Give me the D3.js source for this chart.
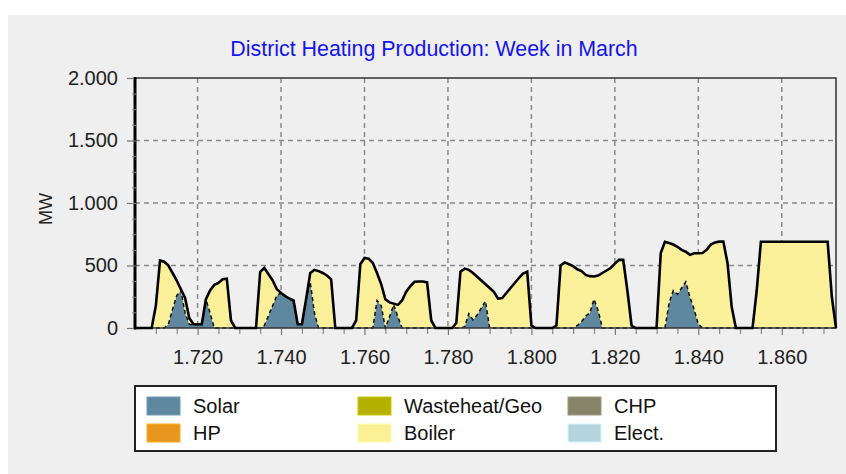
<!DOCTYPE html>
<html>
<head>
<meta charset="utf-8">
<script src="https://cdn.jsdelivr.net/npm/d3@7/dist/d3.min.js"></script>
<style>
  html, body { margin: 0; padding: 0; background: #ffffff; }
  svg { display: block; }
</style>
</head>
<body>
<div id="chart"></div>
<script>
// hourly data, hour 1705 .. 1873 (one week)
const firstHour = 1705;
const lastHour = 1873;

// MW per hour
const solarValues = [
    0, 0, 0, 0, 0, 0, 0, 0, 30, 150,
    260, 300, 120, 30, 25, 25, 30, 230, 120, 0,
    0, 0, 0, 0, 0, 0, 0, 0, 0, 0,
    0, 20, 100, 180, 260, 280, 255, 235, 220, 30,
    30, 230, 370, 120, 0, 0, 0, 0, 0, 0,
    0, 0, 0, 0, 0, 0, 0, 0, 220, 180,
    0, 90, 185, 90, 0, 0, 0, 0, 0, 0,
    0, 0, 0, 0, 0, 0, 0, 0, 0, 10,
    115, 65, 105, 160, 215, 0, 0, 0, 0, 0,
    0, 0, 0, 0, 0, 0, 0, 0, 0, 0,
    0, 0, 0, 0, 0, 0, 20, 50, 95, 120,
    230, 140, 0, 0, 0, 0, 0, 0, 0, 0,
    0, 0, 0, 0, 0, 0, 0, 0, 200, 300,
    270, 320, 370, 245, 150, 30, 0, 0, 0, 0,
    0, 0, 0, 0, 0, 0, 0, 0, 0, 0,
    0, 0, 0, 0, 0, 0, 0, 0, 0, 0,
    0, 0, 0, 0, 0, 0, 0, 0, 0
];

const boilerValues = [
    0, 0, 0, 0, 0, 180, 540, 530, 470, 290,
    120, 10, 120, 50, 5, 5, 0, 0, 180, 345,
    360, 390, 395, 60, 0, 0, 0, 0, 0, 0,
    450, 460, 330, 200, 50, 0, 0, 0, 0, 0,
    0, 0, 70, 345, 455, 440, 420, 390, 0, 0,
    0, 0, 0, 60, 510, 560, 555, 520, 220, 170,
    230, 115, 10, 95, 220, 290, 335, 370, 372, 372,
    365, 60, 0, 0, 0, 0, 0, 40, 450, 465,
    350, 375, 305, 220, 135, 320, 290, 235, 240, 280,
    320, 360, 400, 435, 450, 20, 0, 0, 0, 0,
    0, 20, 500, 525, 510, 495, 450, 405, 330, 295,
    182, 280, 440, 460, 480, 515, 545, 545, 300, 20,
    0, 0, 0, 0, 0, 0, 600, 690, 480, 368,
    380, 305, 240, 340, 448, 568, 600, 625, 668, 685,
    691, 691, 520, 170, 0, 0, 0, 0, 0, 300,
    690, 690, 690, 690, 690, 690, 690, 690, 690, 690,
    690, 690, 690, 690, 690, 690, 690, 250, 0
];

const yTicks = [0, 500, 1000, 1500, 2000];
const xTicks = [1720, 1740, 1760, 1780, 1800, 1820, 1840, 1860];

const legendNames = ["Solar", "HP", "Wasteheat/Geo", "Boiler", "CHP", "Elect."];
const legendColors = ["#5f87a0", "#e8961e", "#b3b000", "#faf096", "#86856a", "#b4d4de"];

const width = 846, height = 474;
const plot = { left: 135, right: 836, top: 78, bottom: 328 };
const font = "'Liberation Sans', Arial, sans-serif";

const svg = d3.select("#chart").append("svg")
    .attr("width", width)
    .attr("height", height)
    .attr("viewBox", `0 0 ${width} ${height}`);

// panel background
svg.append("rect")
    .attr("x", 8).attr("y", 15)
    .attr("width", width - 8).attr("height", height - 15)
    .attr("fill", "#efefef");

// title
svg.append("text")
    .attr("x", 434).attr("y", 56)
    .attr("text-anchor", "middle")
    .style("font-family", font)
    .style("font-size", "21.4px")
    .style("fill", "#1414f0")
    .text("District Heating Production: Week in March");

// scales
const hours = d3.range(firstHour, lastHour + 1);
const x = d3.scaleLinear().domain([firstHour, lastHour]).range([plot.left, plot.right]);
const y = d3.scaleLinear().domain([0, 2000]).range([plot.bottom, plot.top]);

const fmt = d3.formatLocale({ decimal: ",", thousands: ".", grouping: [3], currency: ["", ""] }).format(",d");

// grid
const grid = svg.append("g")
    .attr("stroke", "#8a8a8a")
    .attr("stroke-width", 1.5)
    .attr("stroke-dasharray", "5,4");
grid.selectAll(".gx").data(xTicks).enter().append("line")
    .attr("x1", d => x(d)).attr("x2", d => x(d))
    .attr("y1", plot.top).attr("y2", plot.bottom);
grid.selectAll(".gy").data(yTicks.slice(1, -1)).enter().append("line")
    .attr("x1", plot.left).attr("x2", plot.right)
    .attr("y1", d => y(d)).attr("y2", d => y(d));

// stacked data
const table = hours.map((h, i) => ({ hour: h, solar: solarValues[i], boiler: boilerValues[i] }));
const series = d3.stack().keys(["solar", "boiler"])(table);
const colorOf = { solar: "#5f879f", boiler: "#fbf09a" };

const area = d3.area()
    .x(d => x(d.data.hour))
    .y0(d => y(d[0]))
    .y1(d => y(d[1]));

svg.append("g").selectAll("path")
    .data(series)
    .enter().append("path")
    .attr("fill", d => colorOf[d.key])
    .attr("d", area);

const topLine = d3.line()
    .x(d => x(d.data.hour))
    .y(d => y(d[1]));

// solar edge (dashed)
svg.append("path")
    .datum(series[0])
    .attr("fill", "none")
    .attr("stroke", "#111")
    .attr("stroke-width", 1.5)
    .attr("stroke-dasharray", "4,3")
    .attr("d", topLine);

// frame
svg.append("rect")
    .attr("x", plot.left).attr("y", plot.top)
    .attr("width", plot.right - plot.left).attr("height", plot.bottom - plot.top)
    .attr("fill", "none")
    .attr("stroke", "#333")
    .attr("stroke-width", 1.5);

// total outline
svg.append("path")
    .datum(series[1])
    .attr("fill", "none")
    .attr("stroke", "#000")
    .attr("stroke-width", 2.6)
    .attr("stroke-linejoin", "miter")
    .attr("d", topLine);

svg.append("line")
    .attr("x1", plot.left).attr("x2", plot.left)
    .attr("y1", plot.top - 1).attr("y2", plot.bottom + 1.5)
    .attr("stroke", "#000")
    .attr("stroke-width", 3);

// y axis
const yAxis = svg.append("g")
    .attr("transform", `translate(${plot.left - 1},0)`)
    .call(d3.axisLeft(y).tickValues(yTicks).tickSize(7).tickPadding(9).tickFormat(fmt));
yAxis.select(".domain").remove();
yAxis.selectAll("line").attr("stroke", "#777").attr("stroke-width", 1.2);
yAxis.selectAll("text")
    .style("font-family", font)
    .style("font-size", "20px")
    .style("fill", "#222");

const yMinor = svg.append("g")
    .attr("transform", `translate(${plot.left + 1},0)`)
    .call(d3.axisLeft(y).tickValues(d3.range(125, 2000, 125)).tickSize(4).tickFormat(""));
yMinor.select(".domain").remove();
yMinor.selectAll("line").attr("stroke", "#888").attr("stroke-width", 1);

// x axis
const xAxis = svg.append("g")
    .attr("transform", `translate(0,${plot.bottom + 1})`)
    .call(d3.axisBottom(x).tickValues(xTicks).tickSize(6).tickPadding(15).tickFormat(fmt));
xAxis.select(".domain").remove();
xAxis.selectAll("line").attr("stroke", "#777").attr("stroke-width", 1.2);
xAxis.selectAll("text")
    .style("font-family", font)
    .style("font-size", "20px")
    .style("fill", "#222");

const xMinor = svg.append("g")
    .attr("transform", `translate(0,${plot.bottom + 1})`)
    .call(d3.axisBottom(x).tickValues(d3.range(1710, 1873, 5).filter(v => v % 20 !== 0)).tickSize(5).tickFormat(""));
xMinor.select(".domain").remove();
xMinor.selectAll("line").attr("stroke", "#888").attr("stroke-width", 1.2);

// y label
svg.append("text")
    .attr("transform", "translate(52,209) rotate(-90)")
    .attr("text-anchor", "middle")
    .style("font-family", font)
    .style("font-size", "18px")
    .style("fill", "#222")
    .text("MW");

// legend
const legend = svg.append("g");
legend.append("rect")
    .attr("x", 135).attr("y", 386)
    .attr("width", 641).attr("height", 65)
    .attr("fill", "#fff")
    .attr("stroke", "#222")
    .attr("stroke-width", 2);

const colX = [147, 358, 568];
const rowY = [397, 424];
const items = legend.selectAll(".item")
    .data(legendNames)
    .enter().append("g")
    .attr("transform", (d, i) => `translate(${colX[Math.floor(i / 2)]},${rowY[i % 2]})`);
items.append("rect")
    .attr("width", 33).attr("height", 18)
    .attr("fill", (d, i) => legendColors[i])
    .attr("stroke", (d, i) => d3.rgb(legendColors[i]).brighter(0.4))
    .attr("stroke-width", 1);
items.append("text")
    .attr("x", 46).attr("y", 16)
    .style("font-family", font)
    .style("font-size", "20px")
    .style("fill", "#111")
    .text(d => d);
</script>
</body>
</html>
